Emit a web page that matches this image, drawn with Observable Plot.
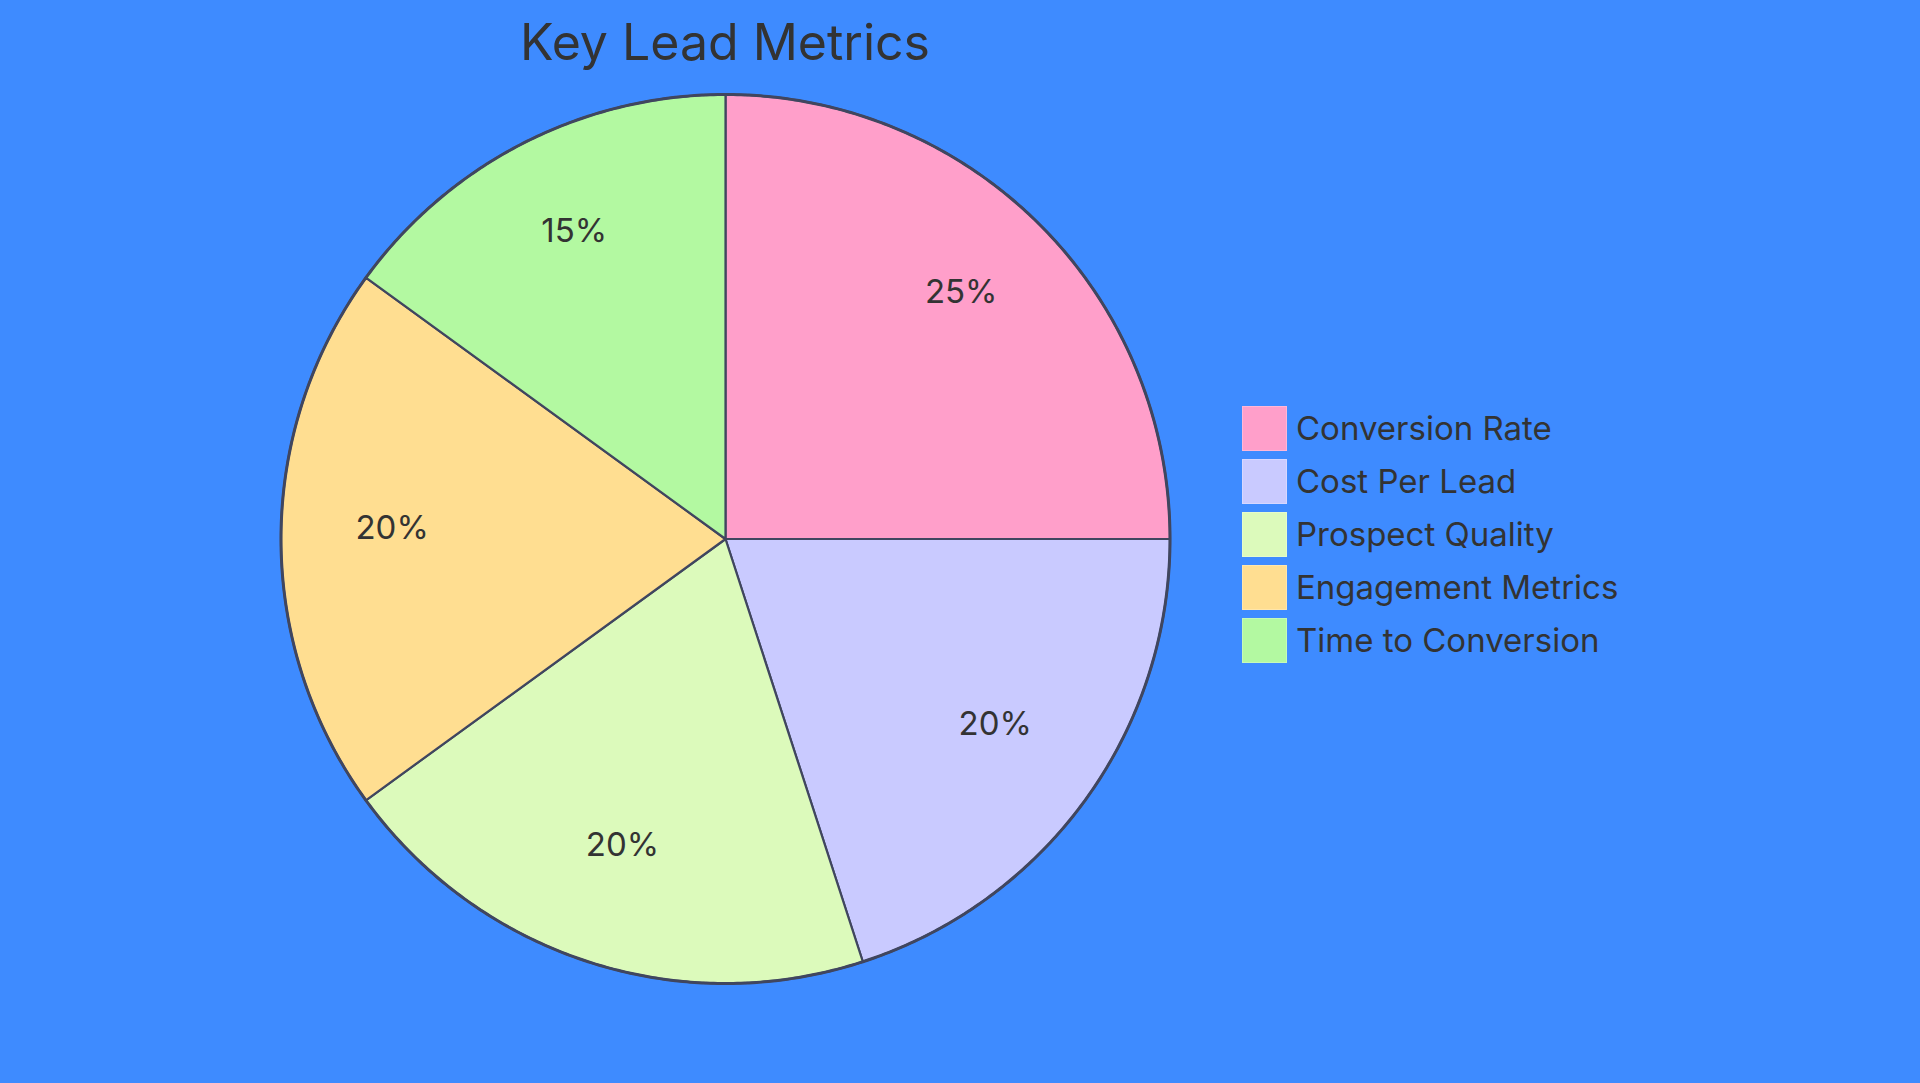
<!DOCTYPE html>
<html>
<head>
<meta charset="utf-8">
<script src="https://cdn.jsdelivr.net/npm/d3@7"></script>
<script src="https://cdn.jsdelivr.net/npm/@observablehq/plot@0.6"></script>
<style>
  html, body { margin: 0; padding: 0; background: #3E8BFF; width: 1920px; height: 1083px; overflow: hidden; font-family: Inter, "Noto Sans", sans-serif; }
  #wrap { position: relative; width: 1920px; height: 1083px; }
  #title { position: absolute; left: 0; width: 1450px; top: 7px; text-align: center; font-size: 50px; color: #333; line-height: 70px; }
  #legend { position: absolute; left: 1242px; top: 406px; }
  .row { display: flex; align-items: center; height: 45px; margin-bottom: 8px; }
  .sw { width: 43px; height: 43px; border: 1px solid rgba(255,255,255,0.25); box-sizing: content-box; }
  .lab { margin-left: 9px; font-size: 33px; color: #333; line-height: 45px; }
  #chart { position: absolute; left: 0; top: 0; }
</style>
</head>
<body>
<div id="wrap">
  <div id="chart"></div>
  <div id="title">Key Lead Metrics</div>
  <div id="legend"></div>
</div>
<script>
const categories = ["Conversion Rate", "Cost Per Lead", "Prospect Quality", "Engagement Metrics", "Time to Conversion"];
const values = [25, 20, 20, 20, 15];
const colors = ["#FF9FCA", "#C9CAFF", "#DCFABB", "#FFDE91", "#B3F9A1"];
const labels = ["25%", "20%", "20%", "20%", "15%"];

const pie = d3.pie().sort(null).value(d => d.value)(categories.map((c, i) => ({key: c, value: values[i], label: labels[i]})));

// Slice outlines in unit-circle coordinates (angle clockwise from top)
const slicePts = [];
pie.forEach(p => {
  const key = p.data.key;
  slicePts.push({key, x: 0, y: 0});
  const n = Math.max(2, Math.ceil((p.endAngle - p.startAngle) / 0.005));
  for (let k = 0; k <= n; k++) {
    const a = p.startAngle + (p.endAngle - p.startAngle) * k / n;
    slicePts.push({key, x: Math.sin(a), y: Math.cos(a)});
  }
  slicePts.push({key, x: 0, y: 0});
});
const circlePts = d3.range(0, 721).map(k => { const a = k / 720 * 2 * Math.PI; return {x: Math.sin(a), y: Math.cos(a)}; });
const labelPts = pie.map(p => { const a = (p.startAngle + p.endAngle) / 2; return {label: p.data.label, x: 0.75 * Math.sin(a), y: 0.75 * Math.cos(a)}; });

const chart = Plot.plot({
  width: 1920,
  height: 1083,
  marginLeft: 280.5,
  marginRight: 750.5,
  marginTop: 94,
  marginBottom: 100,
  style: {background: "transparent", fontFamily: "Inter, 'Noto Sans', sans-serif", overflow: "visible"},
  x: {domain: [-1, 1], axis: null},
  y: {domain: [-1, 1], axis: null},
  color: {domain: categories, range: colors},
  marks: [
    Plot.line(slicePts, {x: "x", y: "y", z: "key", fill: "key", stroke: "#40465F", strokeWidth: 2.2, strokeLinejoin: "round", curve: "linear"}),
    Plot.line(circlePts, {x: "x", y: "y", stroke: "#40465F", strokeWidth: 3, fill: "none"}),
    Plot.text(labelPts, {x: "x", y: "y", text: "label", fontSize: 33, fill: "#333", textAnchor: "middle", lineAnchor: "bottom"})
  ]
});
document.getElementById("chart").appendChild(chart);

const legend = document.getElementById("legend");
categories.forEach((c, i) => {
  const row = document.createElement("div");
  row.className = "row";
  const sw = document.createElement("div");
  sw.className = "sw";
  sw.style.background = colors[i];
  const lab = document.createElement("div");
  lab.className = "lab";
  lab.textContent = c;
  row.appendChild(sw); row.appendChild(lab);
  legend.appendChild(row);
});
</script>
</body>
</html>
